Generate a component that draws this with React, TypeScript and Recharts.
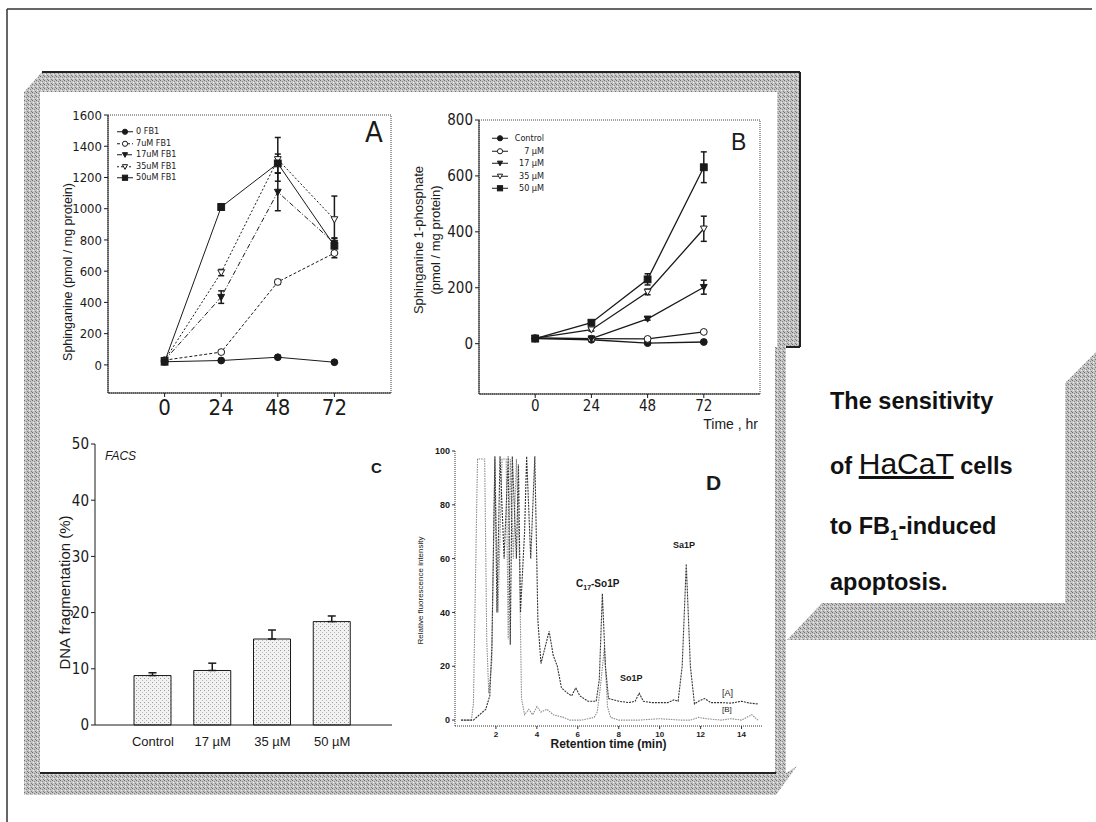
import React from 'react';
import { LineChart, Line, BarChart, Bar, XAxis, YAxis, ErrorBar, ReferenceArea, Legend, Label } from 'recharts';

const hours = [0, 24, 48, 72];

// A - sphinganine (pmol / mg protein)
const saNames = ['0 FB1', '7uM FB1', '17uM FB1', '35uM FB1', '50uM FB1'];
const sa0 = [20, 28, 49, 17];
const sa7 = [30, 82, 531, 716];
const sa17 = [30, 434, 1107, 780];
const sa35 = [30, 591, 1316, 931];
const sa50 = [20, 1011, 1290, 763];
const saErr0 = [4, 5, 8, 4];
const saErr7 = [5, 10, 15, 30];
const saErr17 = [5, 40, 120, 30];
const saErr35 = [5, 20, 140, 150];
const saErr50 = [5, 20, 60, 50];
const saTicks = [0, 200, 400, 600, 800, 1000, 1200, 1400, 1600];

// B - sphinganine 1-phosphate
const s1pNames = ['Control', '7 µM', '17 µM', '35 µM', '50 µM'];
const s1p0 = [18, 14, 2, 6];
const s1p7 = [20, 18, 17, 42];
const s1p17 = [20, 18, 89, 202];
const s1p35 = [20, 50, 185, 411];
const s1p50 = [18, 75, 230, 631];
const s1pErr0 = [2, 3, 3, 2];
const s1pErr7 = [2, 3, 4, 5];
const s1pErr17 = [2, 3, 5, 25];
const s1pErr35 = [2, 5, 10, 45];
const s1pErr50 = [3, 8, 20, 55];
const s1pTicks = [0, 200, 400, 600, 800];

// C - FACS
const fragCats = ['Control', '17 µM', '35 µM', '50 µM'];
const fragVals = [8.8, 9.7, 15.3, 18.4];
const fragErr = [0.5, 1.3, 1.6, 1.0];
const fragTicks = [0, 10, 20, 30, 40, 50];

// D - HPLC traces
const rtA = [0.3, 0.9, 1.2, 1.5, 1.7, 1.8, 1.95, 2.05, 2.2, 2.4, 2.6, 2.7, 2.8, 3.0, 3.1, 3.2, 3.4, 3.5, 3.7, 3.9, 4.05, 4.2, 4.4, 4.6, 4.8, 5.0, 5.2, 5.5, 5.7, 5.9, 6.1, 6.5, 6.9, 7.05, 7.2, 7.35, 7.5, 8.0, 8.5, 8.8, 9.0, 9.2, 9.6, 10.0, 10.4, 10.7, 10.9, 11.1, 11.3, 11.5, 11.7, 11.9, 12.2, 12.5, 13.0, 13.5, 14.0, 14.4, 14.8];
const fluA = [0, 0, 2, 4, 9, 27, 98, 40, 98, 60, 98, 28, 98, 60, 95, 40, 70, 98, 60, 98, 37, 21, 27, 33, 24, 20, 12, 10, 9, 12, 9, 7, 7, 15, 47, 20, 8, 7, 6.5, 7, 10, 7, 6.5, 6.5, 6.5, 7.5, 7, 20, 58, 20, 6, 7, 8, 6.5, 6.5, 6.3, 7, 6.3, 6];
const rtB = [0.3, 0.8, 0.9, 1.1, 1.45, 1.55, 1.65, 1.8, 1.95, 2.1, 2.3, 2.5, 2.6, 2.7, 2.85, 3.0, 3.15, 3.25, 3.4, 3.6, 3.8, 4.0, 4.2, 4.5, 4.8, 5.3, 5.6, 6.2, 6.8, 6.95, 7.1, 7.3, 7.45, 7.6, 8.0, 9.0, 10.0, 11.0, 11.5, 11.9, 12.3, 13.0, 13.5, 14.0, 14.5, 14.8];
const fluB = [0, 0, 6, 97, 97, 30, 10, 22, 97, 40, 97, 97, 30, 97, 60, 97, 60, 8, 2, 4, 2, 5, 3, 4, 2, 1, 0, 0, 1, 3, 12, 27, 5, 1, 0, 0, 0.5, 0, 0, 1, 0.5, 0, 0.5, 0, 2, 0];
const rtTicks = [2, 4, 6, 8, 10, 12, 14];
const fluTicks = [0, 20, 40, 60, 80, 100];

const saData = hours.map((h, i) => ({
  h, s0: sa0[i], s7: sa7[i], s17: sa17[i], s35: sa35[i], s50: sa50[i],
  e0: saErr0[i], e7: saErr7[i], e17: saErr17[i], e35: saErr35[i], e50: saErr50[i],
}));
const s1pData = hours.map((h, i) => ({
  h, s0: s1p0[i], s7: s1p7[i], s17: s1p17[i], s35: s1p35[i], s50: s1p50[i],
  e0: s1pErr0[i], e7: s1pErr7[i], e17: s1pErr17[i], e35: s1pErr35[i], e50: s1pErr50[i],
}));
const fragData = fragCats.map((name, i) => ({ name, v: fragVals[i], err: [0, fragErr[i]] }));
const traceA = rtA.map((t, i) => ({ t, v: fluA[i] }));
const traceB = rtB.map((t, i) => ({ t, v: fluB[i] }));

const narrow = '"Liberation Sans Narrow", "Arial Narrow", "DejaVu Sans Condensed", sans-serif';
const sans = '"Liberation Sans", Arial, Helvetica, sans-serif';
const ink = '#1a1a1a';

const keys = ['s0', 's7', 's17', 's35', 's50'];
const errKeys = ['e0', 'e7', 'e17', 'e35', 'e50'];
const shapes = ['circle', 'circle', 'tri', 'tri', 'square'];
const filled = [true, false, true, false, true];
const dashA = [undefined, '3 2', '5 2 1 2', '2 2', undefined];

const Marker = ({ cx, cy, shape, fill, r = 3.4 }: any) => {
  if (cx == null || cy == null) return null;
  const f = fill ? ink : '#fff';
  if (shape === 'square') return <rect x={cx - r} y={cy - r} width={2 * r} height={2 * r} fill={f} stroke={ink} />;
  if (shape === 'tri')
    return <polygon points={`${cx - r},${cy - r * 0.8} ${cx + r},${cy - r * 0.8} ${cx},${cy + r}`} fill={f} stroke={ink} />;
  return <circle cx={cx} cy={cy} r={r} fill={f} stroke={ink} />;
};

const LegendBox = ({ names, dashes, rowH, textW, align }: any) => (
  <div style={{ fontFamily: narrow, fontSize: 9, color: ink, lineHeight: `${rowH}px` }}>
    {names.map((n: string, i: number) => (
      <div key={n} style={{ display: 'flex', alignItems: 'center', height: rowH }}>
        <svg width={16} height={rowH}>
          <line x1={0} x2={16} y1={rowH / 2} y2={rowH / 2} stroke={ink} strokeDasharray={dashes[i]} />
          <Marker cx={8} cy={rowH / 2} shape={shapes[i]} fill={filled[i]} r={2.6} />
        </svg>
        <span style={{ width: textW, textAlign: align, marginLeft: 3 }}>{n}</span>
      </div>
    ))}
  </div>
);

const vLabel = (lines: string[], dx: number[], dy: number, fs: number) => ({ viewBox }: any) => {
  const cy = viewBox.y + viewBox.height / 2 + dy;
  return (
    <g>
      {lines.map((l, i) => (
        <text key={l} transform={`translate(${viewBox.x + dx[i]},${cy}) rotate(-90)`} textAnchor="middle"
          fontFamily={sans} fontSize={fs} fill={ink}>{l}</text>
      ))}
    </g>
  );
};

const abs = (left: number, top: number, extra: any = {}) => ({ position: 'absolute' as const, left, top, ...extra });

export default function App() {
  return (
    <div style={{ position: 'absolute', left: 0, top: 0, width: 1096, height: 822, background: '#fff', overflow: 'hidden' }}>
      <svg width={1096} height={822} style={{ position: 'absolute', left: 0, top: 0 }}>
        <defs>
          <pattern id="dith" width={4} height={4} patternUnits="userSpaceOnUse">
            <rect width={4} height={4} fill="#c4c4c4" />
            <rect x={0} y={0} width={1} height={1} fill="#6e6e6e" />
            <rect x={2} y={1} width={1} height={1} fill="#8a8a8a" />
            <rect x={1} y={2} width={1} height={1} fill="#efefef" />
            <rect x={3} y={3} width={1} height={1} fill="#7a7a7a" />
          </pattern>
        </defs>
        <line x1={7} y1={9} x2={1092} y2={9} stroke="#333" strokeWidth={1.5} />
        <line x1={7} y1={9} x2={7} y2={822} stroke="#333" strokeWidth={1.5} />
        <polygon points="42,72 800,72 800,92 24,92" fill="url(#dith)" />
        <rect x={24} y={92} width={16} height={681} fill="url(#dith)" />
        <polygon points="24,773 786,773 797,766 776,795 24,795" fill="url(#dith)" />
        <rect x={777} y={72} width={23} height={275} fill="url(#dith)" />
        <rect x={775} y={347} width={11} height={426} fill="url(#dith)" />
        <line x1={42} y1={72} x2={800} y2={72} stroke="#222" strokeWidth={2} />
        <line x1={800} y1={72} x2={800} y2={347} stroke="#222" strokeWidth={2} />
        <line x1={786} y1={347} x2={800} y2={347} stroke="#222" strokeWidth={2} />
        <line x1={40} y1={773} x2={776} y2={773} stroke="#222" strokeWidth={2} />
        <polygon points="787,640 822,603 1065,603 1096,640" fill="url(#dith)" />
        <polygon points="1065,383 1096,352 1096,640 1065,603" fill="url(#dith)" />
      </svg>

      {/* A */}
      <div style={abs(40, 100)}>
        <LineChart width={370} height={330} data={saData} margin={{ top: 15, right: 19, left: 0, bottom: 0 }}>
          <XAxis type="number" dataKey="h" domain={[-24, 96]} ticks={hours} tickSize={4} tickMargin={2}
            axisLine={{ stroke: ink }} tickLine={{ stroke: ink }} tick={{ fontSize: 22, fill: ink, fontFamily: narrow }} height={37} />
          <YAxis type="number" domain={[-180, 1600]} ticks={saTicks} width={68} tickSize={4} allowDataOverflow
            axisLine={{ stroke: ink }} tickLine={{ stroke: ink }} tick={{ fontSize: 13, fill: ink, fontFamily: narrow }}>
            <Label content={vLabel(['Sphinganine (pmol / mg protein)'], [32], 18, 12.5)} />
          </YAxis>
          <ReferenceArea x1={-24} x2={96} y1={-180} y2={1600} fill="none" stroke="#444" strokeDasharray="1 1" />
          {keys.map((k, i) => (
            <Line key={k} dataKey={k} name={saNames[i]} type="linear" stroke={ink} strokeWidth={1}
              strokeDasharray={dashA[i]} isAnimationActive={false}
              dot={(p: any) => <Marker key={`a${k}${p.index}`} cx={p.cx} cy={p.cy} shape={shapes[i]} fill={filled[i]} />}>
              <ErrorBar dataKey={errKeys[i]} width={3} stroke={ink} direction="y" isAnimationActive={false} />
            </Line>
          ))}
          <Legend layout="vertical" align="center" verticalAlign="middle" wrapperStyle={{ left: 77, top: 26, width: 90 }}
            content={() => <LegendBox names={saNames} dashes={dashA} rowH={11.5} textW={60} align="left" />} />
        </LineChart>
      </div>

      {/* B */}
      <div style={abs(400, 100)}>
        <LineChart width={380} height={320} data={s1pData} margin={{ top: 20, right: 20, left: 0, bottom: 0 }}>
          <XAxis type="number" dataKey="h" domain={[-24, 96]} ticks={hours} tickSize={4} tickMargin={2}
            axisLine={{ stroke: ink }} tickLine={{ stroke: ink }} tick={{ fontSize: 15, fill: ink, fontFamily: narrow }} height={26} />
          <YAxis type="number" domain={[-180, 800]} ticks={s1pTicks} width={79} tickSize={4} allowDataOverflow
            axisLine={{ stroke: ink }} tickLine={{ stroke: ink }} tick={{ fontSize: 15, fill: ink, fontFamily: narrow }}>
            <Label content={vLabel(['Sphinganine 1-phosphate', '(pmol / mg protein)'], [23, 40], -17, 13)} />
          </YAxis>
          <ReferenceArea x1={-24} x2={96} y1={-180} y2={800} fill="none" stroke="#444" strokeDasharray="1 1" />
          {keys.map((k, i) => (
            <Line key={k} dataKey={k} name={s1pNames[i]} type="linear" stroke={ink} strokeWidth={1.3}
              isAnimationActive={false}
              dot={(p: any) => <Marker key={`b${k}${p.index}`} cx={p.cx} cy={p.cy} shape={shapes[i]} fill={filled[i]} />}>
              <ErrorBar dataKey={errKeys[i]} width={3} stroke={ink} direction="y" isAnimationActive={false} />
            </Line>
          ))}
          <Legend layout="vertical" align="center" verticalAlign="middle" wrapperStyle={{ left: 92, top: 32, width: 70 }}
            content={() => <LegendBox names={s1pNames} dashes={[]} rowH={12.5} textW={33} align="right" />} />
        </LineChart>
      </div>

      {/* C */}
      <div style={abs(40, 430)}>
        <BarChart width={370} height={330} data={fragData} margin={{ top: 14, right: 18, left: 0, bottom: 0 }}>
          <defs>
            <pattern id="stip" width={4} height={4} patternUnits="userSpaceOnUse">
              <rect width={4} height={4} fill="#f2f2f2" />
              <rect x={0} y={0} width={1} height={1} fill="#9a9a9a" />
              <rect x={2} y={2} width={1} height={1} fill="#b5b5b5" />
            </pattern>
          </defs>
          <XAxis dataKey="name" type="category" padding={{ left: 28, right: 30 }} tickLine={false} tickMargin={6}
            axisLine={{ stroke: ink }} tick={{ fontSize: 13, fill: ink, fontFamily: sans }} height={35} />
          <XAxis xAxisId="top" dataKey="name" orientation="top" height={0} tick={false} tickLine={false}
            axisLine={{ stroke: '#444', strokeDasharray: '1 1' }} />
          <YAxis type="number" domain={[0, 50]} ticks={fragTicks} width={55} tickSize={4}
            axisLine={{ stroke: ink }} tickLine={{ stroke: ink }} tick={{ fontSize: 15, fill: ink, fontFamily: narrow }}>
            <Label content={vLabel(['DNA fragmentation (%)'], [30], 8, 15)} />
          </YAxis>
          <YAxis yAxisId="right" orientation="right" width={0} tick={false} tickLine={false}
            axisLine={{ stroke: '#444', strokeDasharray: '1 1' }} />
          <Bar dataKey="v" fill="url(#stip)" stroke={ink} strokeWidth={1} barSize={37} isAnimationActive={false}>
            <ErrorBar dataKey="err" width={4} stroke={ink} direction="y" isAnimationActive={false} />
          </Bar>
        </BarChart>
      </div>

      {/* D */}
      <div style={abs(410, 430)}>
        <LineChart width={360} height={330} margin={{ top: 21, right: 8, left: 0, bottom: 0 }}>
          <XAxis type="number" dataKey="t" domain={[0, 15]} ticks={rtTicks} tickSize={3} allowDataOverflow
            axisLine={{ stroke: '#333', strokeDasharray: '1 1' }} tickLine={{ stroke: '#333' }}
            tick={{ fontSize: 8, fill: ink, fontFamily: sans, fontWeight: 'bold' }} height={34}>
            <Label content={({ viewBox }: any) => (
              <text x={viewBox.x + viewBox.width / 2} y={viewBox.y + 22} textAnchor="middle"
                fontFamily={sans} fontSize={12} fontWeight="bold" fill={ink}>Retention time (min)</text>
            )} />
          </XAxis>
          <YAxis type="number" domain={[-2.2, 100]} ticks={fluTicks} width={45} tickSize={3} allowDataOverflow
            axisLine={{ stroke: '#333', strokeDasharray: '1 1' }} tickLine={{ stroke: '#333' }}
            tick={{ fontSize: 9, fill: ink, fontFamily: sans, fontWeight: 'bold' }}>
            <Label content={vLabel(['Relative fluorescence intensity'], [13], 2, 8)} />
          </YAxis>
          <Line data={traceB} dataKey="v" type="linear" stroke="#8c8c8c" strokeWidth={1.1} strokeDasharray="1.5 1"
            dot={false} isAnimationActive={false} />
          <Line data={traceA} dataKey="v" type="linear" stroke="#333" strokeWidth={1.1} strokeDasharray="2 1"
            dot={false} isAnimationActive={false} />
        </LineChart>
      </div>

      {/* panel letters and notes */}
      <div style={abs(365, 118, { fontFamily: narrow, fontSize: 29, color: ink, lineHeight: 1 })}>A</div>
      <div style={abs(731, 131, { fontFamily: sans, fontSize: 23, color: ink, lineHeight: 1 })}>B</div>
      <div style={abs(658, 417, { fontFamily: sans, fontSize: 14, color: ink, lineHeight: 1, width: 100, textAlign: 'right' })}>Time , hr</div>
      <div style={abs(105, 450, { fontFamily: sans, fontSize: 12, fontStyle: 'italic', color: ink, lineHeight: 1 })}>FACS</div>
      <div style={abs(371, 460, { fontFamily: sans, fontSize: 15, fontWeight: 'bold', color: ink, lineHeight: 1 })}>C</div>
      <div style={abs(706, 472, { fontFamily: sans, fontSize: 21, fontWeight: 'bold', color: ink, lineHeight: 1 })}>D</div>
      <div style={abs(576, 579, { fontFamily: sans, fontSize: 10, fontWeight: 'bold', color: ink, lineHeight: 1 })}>
        C<sub style={{ fontSize: 7 }}>17</sub>-So1P
      </div>
      <div style={abs(620, 674, { fontFamily: sans, fontSize: 9, fontWeight: 'bold', color: ink, lineHeight: 1 })}>So1P</div>
      <div style={abs(673, 541, { fontFamily: sans, fontSize: 9, fontWeight: 'bold', color: ink, lineHeight: 1 })}>Sa1P</div>
      <div style={abs(722, 689, { fontFamily: sans, fontSize: 9, color: ink, lineHeight: 1 })}>[A]</div>
      <div style={abs(722, 706, { fontFamily: sans, fontSize: 8, color: ink, lineHeight: 1 })}>[B]</div>

      {/* right caption */}
      <div style={abs(830, 390, { fontFamily: sans, fontSize: 23.5, fontWeight: 'bold', color: '#111', lineHeight: 1 })}>The sensitivity</div>
      <div style={abs(830, 449, { fontFamily: sans, fontWeight: 'bold', color: '#111', lineHeight: 1, display: 'flex', alignItems: 'baseline', whiteSpace: 'nowrap' })}>
        <span style={{ fontSize: 23.5 }}>of&nbsp;</span>
        <span style={{ fontSize: 30, fontWeight: 'normal', textDecoration: 'underline' }}>HaCaT</span>
        <span style={{ fontSize: 23.5 }}>&nbsp;cells</span>
      </div>
      <div style={abs(830, 515, { fontFamily: sans, fontSize: 23.5, fontWeight: 'bold', color: '#111', lineHeight: 1 })}>
        to FB<sub style={{ fontSize: 15 }}>1</sub>-induced
      </div>
      <div style={abs(830, 571, { fontFamily: sans, fontSize: 23.5, fontWeight: 'bold', color: '#111', lineHeight: 1 })}>apoptosis.</div>
    </div>
  );
}
